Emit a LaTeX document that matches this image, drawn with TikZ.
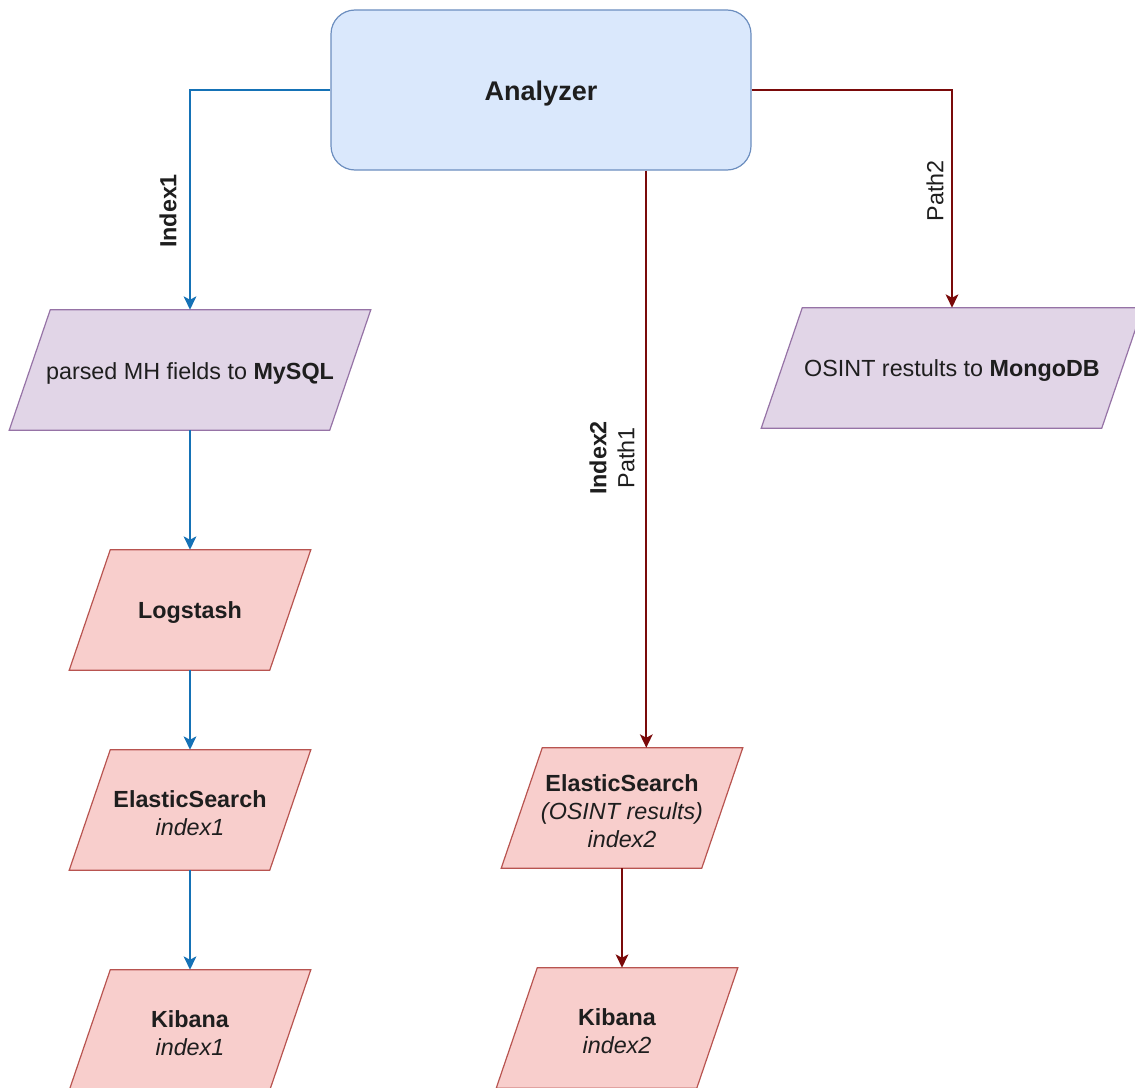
\documentclass[tikz,border=0pt]{standalone}
\usepackage{fontspec}
\setmainfont{Liberation Sans}
\usetikzlibrary{arrows.meta,backgrounds,calc}
\definecolor{anafill}{HTML}{DAE8FC}
\definecolor{anadraw}{HTML}{6C8EBF}
\definecolor{purfill}{HTML}{E1D5E7}
\definecolor{purdraw}{HTML}{9673A6}
\definecolor{redfill}{HTML}{F8CECC}
\definecolor{reddraw}{HTML}{B85450}
\definecolor{blueline}{HTML}{1572B6}
\definecolor{darkred}{HTML}{7A0A0A}
\definecolor{txt}{HTML}{1E1E1E}
\newcommand{\txtfont}{\fontsize{17.5}{21}\selectfont}
% text centres sit about 3px below the shape centres, as in the reference
\newcommand{\parashape}[3]{% name, fill, draw
  \draw[line width=0.9pt, fill=#2, draw=#3]
    ([xshift=15.4pt,yshift=2.25pt]#1.north west) -- ([xshift=15.4pt,yshift=2.25pt]#1.north east) --
    ([xshift=-15.4pt,yshift=2.25pt]#1.south east) -- ([xshift=-15.4pt,yshift=2.25pt]#1.south west) -- cycle;}
\tikzset{
  box/.style={inner sep=0pt, align=center, text=txt, font=\txtfont},
  parabox/.style={box, minimum width=#1, minimum height=90pt},
  lbl/.style={inner sep=0pt, align=center, text=txt, font=\txtfont, rotate=90},
  tipstyle/.style={-{Stealth[length=10pt,width=9.5pt,inset=2.5pt]}},
  bluearrow/.style={draw=blueline, line width=1.4pt, tipstyle},
  redarrow/.style={draw=darkred, line width=1.4pt, tipstyle}
}
\begin{document}
\begin{tikzpicture}[x=0.75pt,y=-0.75pt]
\useasboundingbox (0,0) rectangle (1135,1088);
\clip (0,0) rectangle (1135,1088);

% nodes
\node[box, minimum width=315pt, minimum height=120pt, rounded corners=18pt,
      fill=anafill, draw=anadraw, line width=0.9pt,
      label={[inner sep=0pt, yshift=-3pt, text=txt, font=\fontsize{20.25}{24}\selectfont\bfseries]center:Analyzer}]
      (analyzer) at (541,90) {};

\node[parabox=240pt] (mysql) at (190,373) {parsed MH fields to \textbf{MySQL}};
\node[parabox=255pt] (mongo) at (952,371) {OSINT restults to \textbf{MongoDB}};
\node[parabox=150pt] (logstash) at (190,613) {\textbf{Logstash}};
\node[parabox=150pt] (es1) at (190,813) {\textbf{ElasticSearch}\\\textit{index1}};
\node[parabox=150pt] (kib1) at (190,1033) {\textbf{Kibana}\\\textit{index1}};
\node[parabox=150pt] (es2) at (622,811) {\textbf{ElasticSearch}\\\textit{(OSINT results)}\\\textit{index2}};
\node[parabox=150pt] (kib2) at (617,1031) {\textbf{Kibana}\\\textit{index2}};

\begin{scope}[on background layer]
  \parashape{mysql}{purfill}{purdraw}
  \parashape{mongo}{purfill}{purdraw}
  \parashape{logstash}{redfill}{reddraw}
  \parashape{es1}{redfill}{reddraw}
  \parashape{kib1}{redfill}{reddraw}
  \parashape{es2}{redfill}{reddraw}
  \parashape{kib2}{redfill}{reddraw}
\end{scope}

% connector end points on the drawn shapes
\coordinate (mysqlT) at ([yshift=2.25pt]mysql.north);
\coordinate (mysqlB) at ([yshift=2.25pt]mysql.south);
\coordinate (mongoT) at ([yshift=2.25pt]mongo.north);
\coordinate (logT) at ([yshift=2.25pt]logstash.north);
\coordinate (logB) at ([yshift=2.25pt]logstash.south);
\coordinate (es1T) at ([yshift=2.25pt]es1.north);
\coordinate (es1B) at ([yshift=2.25pt]es1.south);
\coordinate (kib1T) at ([yshift=2.25pt]kib1.north);
\coordinate (es2T) at ([yshift=2.25pt]es2.north);
\coordinate (es2B) at ([yshift=2.25pt]es2.south);
\coordinate (kib2T) at ([yshift=2.25pt]kib2.north);

% connectors
\draw[bluearrow] (analyzer.west) -| (mysqlT);
\draw[bluearrow] (mysqlB) -- (logT);
\draw[bluearrow] (logB) -- (es1T);
\draw[bluearrow] (es1B) -- (kib1T);

\draw[redarrow] (analyzer.east) -| (mongoT);
\coordinate (a2) at ($(analyzer.south west)!0.75!(analyzer.south east)$);
\draw[redarrow] (a2) -- (a2 |- es2T);
\draw[redarrow] (es2B) -- (es2B |- kib2T);

% labels
\node[lbl] (lindex1) at (168,211) {\textbf{Index1}};
\node[lbl] (lpath1) at (612,458) {\textbf{Index2}\\Path1};
\node[lbl] (lpath2) at (935,191) {Path2};
\end{tikzpicture}
\end{document}
